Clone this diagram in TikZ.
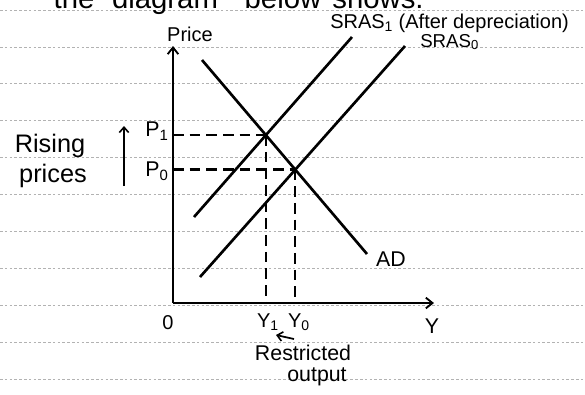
\documentclass[tikz,border=0pt]{standalone}
\usepackage{fontspec}
\setmainfont{Liberation Sans}
\usetikzlibrary{intersections,arrows.meta}
\begin{document}
\begin{tikzpicture}[x=0.75pt,y=-0.75pt,
  ruled/.style={black!30,line width=0.5pt,dash pattern=on 2pt off 1.6pt},
  axisline/.style={line width=2.2pt,-{Straight Barb[length=5pt,width=8pt,line width=1.4pt]}},
  curve/.style={line width=2pt},
  guide/.style={line width=1.8pt,dash pattern=on 8pt off 4.5pt},
  lbl/.style={inner sep=0pt,font=\fontsize{15}{15}\selectfont},
  toptext/.style={inner sep=0pt,anchor=base,font=\fontsize{22}{22}\selectfont},
  pointer/.style={line width=1.3pt,-{Straight Barb[length=4pt,width=7pt,line width=1.2pt]}}]
\useasboundingbox (0,0) rectangle (585,394);
% notebook ruling
\foreach \yy in {10,47,83,120,157,194,231,268,305,342,379}
  \draw[ruled] (0,\yy) -- (585,\yy);
% cut-off line of text at the top
\node[toptext] (w1) at (74,8) {the};
\node[toptext] (w2) at (165,8) {diagram};
\node[toptext] (w3) at (283,8) {below};
\node[toptext] (w4) at (378,8) {shows.};
% axes
\coordinate (O) at (173,303);
\coordinate (Ytop) at (173,46);
\coordinate (Xend) at (434,303);
\draw[axisline] (O) -- (Ytop);
\draw[axisline] (O) -- (Xend);
% curves
\coordinate (ADa) at (202,60);  \coordinate (ADb) at (367,254);
\coordinate (S1a) at (194,217); \coordinate (S1b) at (352,37);
\coordinate (S0a) at (200,277); \coordinate (S0b) at (405,46);
\draw[curve,name path=AD] (ADa) -- (ADb);
\draw[curve,name path=S1] (S1a) -- (S1b);
\draw[curve,name path=S0] (S0a) -- (S0b);
\path[name intersections={of=AD and S1,by=E1}];
\path[name intersections={of=AD and S0,by=E0}];
\draw[guide] (E1 -| O) -- (E1);
\draw[guide] (E1) -- (E1 |- O);
\draw[guide] (E0 -| O) -- (E0);
\draw[guide] (E0) -- (E0 |- O);
% labels
\node[lbl] (price) at (190,34) {Price};
\node[lbl,anchor=west,font=\fontsize{15}{15}\selectfont] (s1) at (330,23) {SRAS\textsubscript{1} (After depreciation)};
\node[lbl,anchor=west,font=\fontsize{14}{14}\selectfont] (s0) at (420,42) {SRAS\textsubscript{0}};
\node[lbl,font=\fontsize{16}{16}\selectfont] (p1) at (157,131) {P\textsubscript{1}};
\node[lbl,font=\fontsize{16}{16}\selectfont] (p0) at (157,171) {P\textsubscript{0}};
\node[lbl,font=\fontsize{16}{16}\selectfont] (ad) at (391,259) {AD};
\node[lbl] (zero) at (168,323) {0};
\node[lbl] (y1) at (268,322) {Y\textsubscript{1}};
\node[lbl] (y0) at (299,322) {Y\textsubscript{0}};
\node[lbl,font=\fontsize{16}{16}\selectfont] (ylab) at (432,326) {Y};
\node[lbl,font=\fontsize{19}{19}\selectfont] (rising) at (50,146) {Rising};
\node[lbl,font=\fontsize{19}{19}\selectfont] (prices) at (53,176) {prices};
\node[lbl,font=\fontsize{16}{16}\selectfont] (restr) at (303,353) {Restricted};
\node[lbl,font=\fontsize{16}{16}\selectfont] (outp) at (317,377) {output};
% arrows
\coordinate (ra) at (124,186);
\coordinate (rb) at (124,126);
\draw[pointer] (ra) -- (rb);
\coordinate (la) at (294,339);
\coordinate (lb) at (276,335);
\draw[pointer] (la) -- (lb);
\end{tikzpicture}
\end{document}
